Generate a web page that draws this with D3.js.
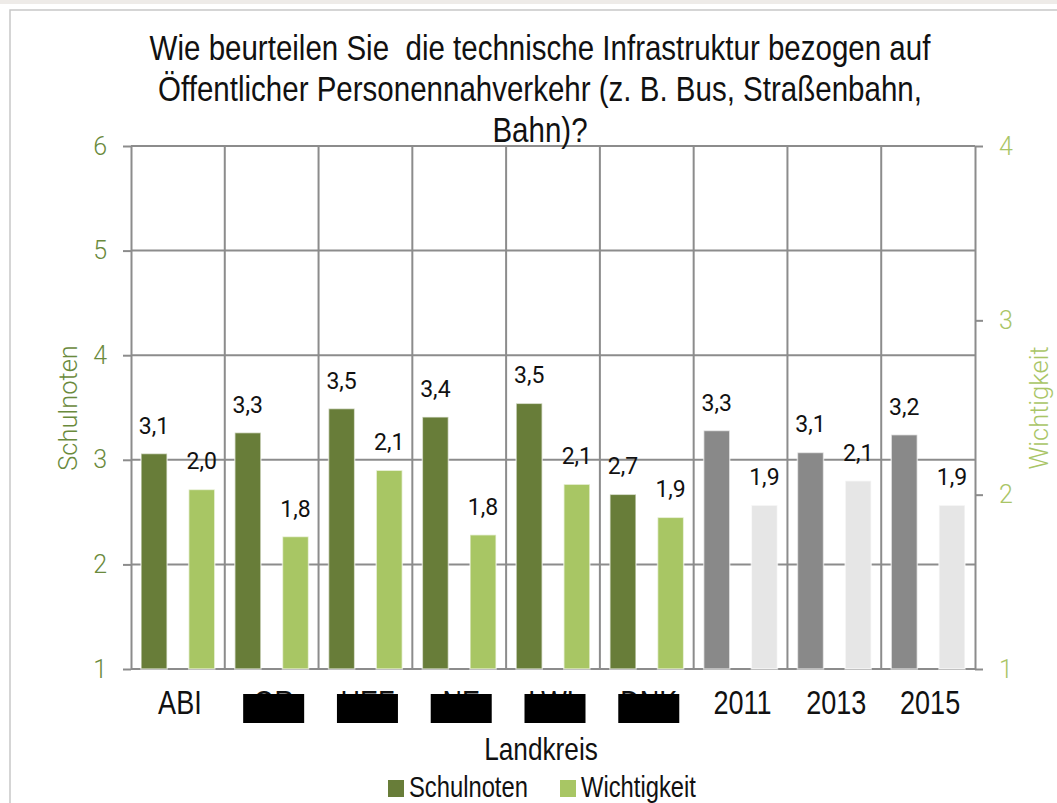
<!DOCTYPE html>
<html>
<head>
<meta charset="utf-8">
<script src="https://cdn.jsdelivr.net/npm/d3@7"></script>
<style>
  body { margin: 0; background: #fff; }
  svg { display: block; }
</style>
</head>
<body>
<div id="chart"></div>
<script>
const categories = ["ABI", "OR", "HEF", "NE", "LWL", "DNK", "2011", "2013", "2015"];
const yearCategories = ["2011", "2013", "2015"];
const redactedCategories = ["OR", "HEF", "NE", "LWL", "DNK"];
const schulnoten = [3.06, 3.26, 3.49, 3.41, 3.54, 2.67, 3.28, 3.07, 3.24];
const wichtigkeit = [2.03, 1.76, 2.14, 1.77, 2.06, 1.87, 1.94, 2.08, 1.94];
const leftTicks = [1, 2, 3, 4, 5, 6];
const rightTicks = [1, 2, 3, 4];
const titleLines = [
    "Wie beurteilen Sie  die technische Infrastruktur bezogen auf",
    "Öffentlicher Personennahverkehr (z. B. Bus, Straßenbahn,",
    "Bahn)?"
];

const width = 1057;
const height = 803;
const plotLeft = 131, plotRight = 975, plotTop = 146, plotBottom = 669;

const darkGreen = '#687d39';
const lightGreen = '#a8c664';
const darkGray = '#898989';
const lightGray = '#e6e6e6';
const gridColor = '#8c8c8c';
const textFont = '"Liberation Sans", Arial, sans-serif';
const numFont = 'Roboto, "Noto Sans", sans-serif';
// no narrow font installed, so squeeze the sans text sideways
const narrow = 0.82;

const svg = d3.select('#chart')
    .append('svg')
        .attr('width', width)
        .attr('height', height);

// frame round the chart
svg.append('rect')
    .attr('x', 0).attr('y', 0)
    .attr('width', width).attr('height', 4)
    .attr('fill', '#eeebe8');
svg.append('rect')
    .attr('x', 10).attr('y', 10)
    .attr('width', width + 20).attr('height', height + 20)
    .attr('fill', '#fff')
    .attr('stroke', '#c8c8c8')
    .attr('stroke-width', 1.5);

const x = d3.scaleBand()
    .domain(categories)
    .range([plotLeft, plotRight])
    .padding(0);

const xInner = d3.scaleBand()
    .domain(['schulnoten', 'wichtigkeit'])
    .range([0, x.bandwidth()])
    .paddingInner(0.453)
    .paddingOuter(0.21);

const yLeft = d3.scaleLinear().domain([1, 6]).range([plotBottom, plotTop]);
const yRight = d3.scaleLinear().domain([1, 4]).range([plotBottom, plotTop]);

const fmt = v => d3.format('.1f')(v).replace('.', ',');

// grid
svg.append('g')
    .selectAll('line')
    .data(leftTicks)
    .join('line')
        .attr('x1', plotLeft)
        .attr('x2', plotRight)
        .attr('y1', d => yLeft(d))
        .attr('y2', d => yLeft(d))
        .attr('stroke', gridColor)
        .attr('stroke-width', 2);

svg.append('g')
    .selectAll('line')
    .data(categories.slice(1))
    .join('line')
        .attr('x1', d => x(d))
        .attr('x2', d => x(d))
        .attr('y1', plotTop)
        .attr('y2', plotBottom)
        .attr('stroke', gridColor)
        .attr('stroke-width', 2);

// axes
const leftAxis = svg.append('g')
    .attr('transform', `translate(${plotLeft},0)`)
    .call(d3.axisLeft(yLeft).tickValues(leftTicks).tickSize(8).tickSizeOuter(0).tickPadding(16).tickFormat(d3.format('d')));

const rightAxis = svg.append('g')
    .attr('transform', `translate(${plotRight},0)`)
    .call(d3.axisRight(yRight).tickValues(rightTicks).tickSize(8).tickSizeOuter(0).tickPadding(16).tickFormat(d3.format('d')));

[leftAxis, rightAxis].forEach((g, i) => {
    g.select('.domain').attr('stroke', gridColor).attr('stroke-width', 2);
    g.selectAll('.tick line').attr('stroke', gridColor).attr('stroke-width', 2);
    g.selectAll('.tick text')
        .attr('font-family', numFont)
        .attr('font-weight', 300)
        .attr('font-size', 25)
        .attr('fill', i === 0 ? '#6a8a3c' : '#a9c566');
});

// bars
const groups = svg.append('g')
    .selectAll('.cat')
    .data(categories.map((c, i) => ({ cat: c, schulnoten: schulnoten[i], wichtigkeit: wichtigkeit[i] })))
    .join('g')
        .attr('class', 'cat')
        .attr('transform', d => `translate(${x(d.cat)},0)`);

const isYear = d => yearCategories.includes(d.cat);

groups.append('rect')
    .attr('x', xInner('schulnoten'))
    .attr('width', xInner.bandwidth())
    .attr('y', d => yLeft(d.schulnoten))
    .attr('height', d => plotBottom - yLeft(d.schulnoten))
    .attr('fill', d => isYear(d) ? darkGray : darkGreen)
    .attr('stroke', '#fff')
    .attr('stroke-opacity', 0.6)
    .attr('stroke-width', 1.5);

groups.append('rect')
    .attr('x', xInner('wichtigkeit'))
    .attr('width', xInner.bandwidth())
    .attr('y', d => yRight(d.wichtigkeit))
    .attr('height', d => plotBottom - yRight(d.wichtigkeit))
    .attr('fill', d => isYear(d) ? lightGray : lightGreen)
    .attr('stroke', '#fff')
    .attr('stroke-opacity', 0.6)
    .attr('stroke-width', 1.5);

// data labels
groups.append('text')
    .attr('x', xInner('schulnoten') + xInner.bandwidth() / 2)
    .attr('y', d => yLeft(d.schulnoten) - 20)
    .attr('text-anchor', 'middle')
    .attr('font-family', numFont)
    .attr('font-size', 23)
    .attr('fill', '#111')
    .text(d => fmt(d.schulnoten));

groups.append('text')
    .attr('x', xInner('wichtigkeit') + xInner.bandwidth() / 2)
    .attr('y', d => yRight(d.wichtigkeit) - 20)
    .attr('text-anchor', 'middle')
    .attr('font-family', numFont)
    .attr('font-size', 23)
    .attr('fill', '#111')
    .text(d => fmt(d.wichtigkeit));

// category labels
const labelX = d => x(d) + x.bandwidth() / 2 + 2;
svg.append('g')
    .selectAll('text')
    .data(categories)
    .join('text')
        .attr('transform', d => `translate(${labelX(d)},714) scale(${narrow},1)`)
        .attr('text-anchor', 'middle')
        .attr('font-family', textFont)
        .attr('font-size', 33)
        .attr('fill', '#111')
        .text(d => d);

// black boxes over the hidden district names
svg.append('g')
    .selectAll('rect')
    .data(redactedCategories)
    .join('rect')
        .attr('x', d => labelX(d) - 30.5)
        .attr('y', 694)
        .attr('width', 61)
        .attr('height', 29)
        .attr('fill', '#000');

// title
svg.append('g')
    .selectAll('text')
    .data(titleLines)
    .join('text')
        .attr('transform', (d, i) => `translate(540,${60 + i * 41}) scale(${narrow},1)`)
        .attr('text-anchor', 'middle')
        .attr('font-family', textFont)
        .attr('font-size', 36)
        .attr('fill', '#111')
        .style('white-space', 'pre')
        .text(d => d);

// axis titles
svg.append('text')
    .attr('transform', 'translate(68,408) rotate(-90)')
    .attr('text-anchor', 'middle')
    .attr('dominant-baseline', 'central')
    .attr('font-family', numFont)
    .attr('font-weight', 300)
    .attr('font-size', 25.5)
    .attr('fill', '#6a8a3c')
    .text('Schulnoten');

svg.append('text')
    .attr('transform', 'translate(1039,408) rotate(-90)')
    .attr('text-anchor', 'middle')
    .attr('dominant-baseline', 'central')
    .attr('font-family', numFont)
    .attr('font-weight', 300)
    .attr('font-size', 25.5)
    .attr('fill', '#a9c566')
    .text('Wichtigkeit');

svg.append('text')
    .attr('transform', `translate(541,760) scale(${narrow},1)`)
    .attr('text-anchor', 'middle')
    .attr('font-family', textFont)
    .attr('font-size', 32)
    .attr('fill', '#111')
    .text('Landkreis');

// legend
const legendItems = [
    { name: 'Schulnoten', color: darkGreen },
    { name: 'Wichtigkeit', color: lightGreen }
];
const legend = svg.append('g')
    .selectAll('g')
    .data(legendItems)
    .join('g')
        .attr('transform', (d, i) => `translate(${388 + i * 172},780)`);

legend.append('rect')
    .attr('width', 16)
    .attr('height', 17)
    .attr('fill', d => d.color);

legend.append('text')
    .attr('transform', `translate(21,17) scale(${narrow},1)`)
    .attr('font-family', textFont)
    .attr('font-size', 29)
    .attr('fill', '#111')
    .text(d => d.name);
</script>
</body>
</html>
